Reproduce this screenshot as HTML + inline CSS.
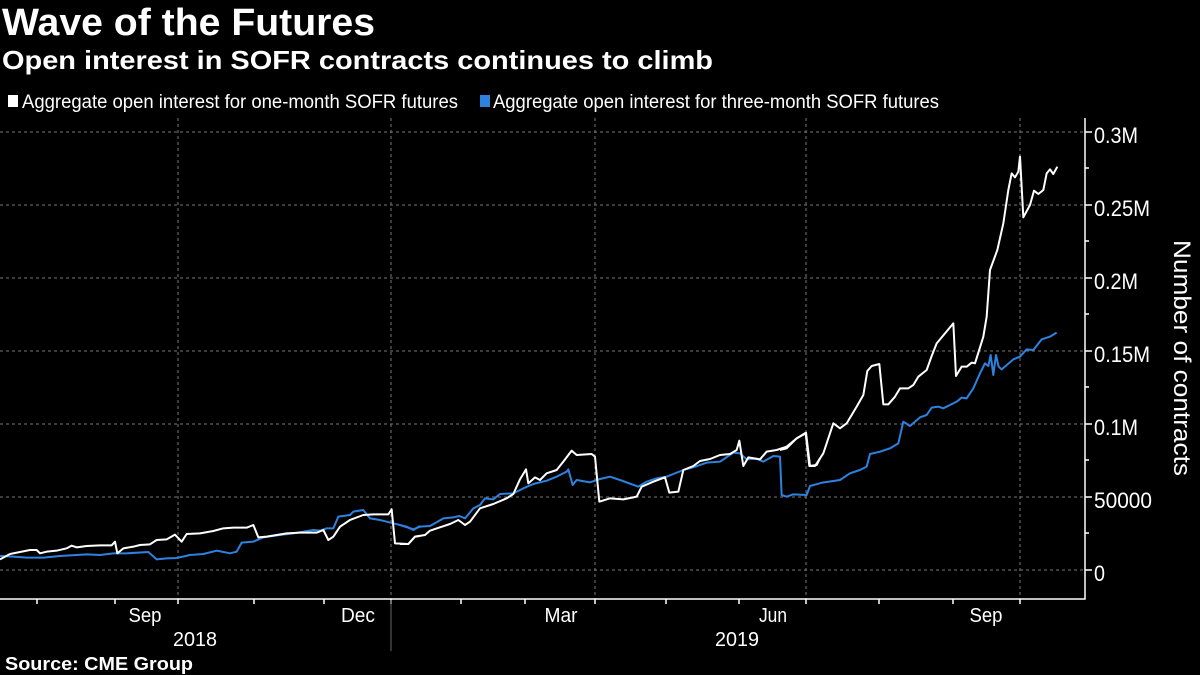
<!DOCTYPE html>
<html><head><meta charset="utf-8"><style>
body{margin:0;background:#000;width:1200px;height:675px;overflow:hidden}
svg{display:block}
text{font-family:"Liberation Sans","DejaVu Sans",sans-serif;fill:#fff}
</style></head><body>
<svg width="1200" height="675" viewBox="0 0 1200 675">
<text x="2" y="35" font-size="38" font-weight="bold" textLength="373" lengthAdjust="spacingAndGlyphs">Wave of the Futures</text>
<text x="2" y="69" font-size="26" font-weight="bold" textLength="711" lengthAdjust="spacingAndGlyphs">Open interest in SOFR contracts continues to climb</text>
<rect x="8" y="95" width="10" height="12" fill="#fff"/>
<text x="22" y="108" font-size="19" textLength="436" lengthAdjust="spacingAndGlyphs">Aggregate open interest for one-month SOFR futures</text>
<rect x="480" y="95" width="10" height="12" fill="#2d82e0"/>
<text x="493" y="108" font-size="19" textLength="446" lengthAdjust="spacingAndGlyphs">Aggregate open interest for three-month SOFR futures</text>
<g stroke="#777" stroke-width="1" stroke-dasharray="3,3">
<line x1="0" y1="132" x2="1085" y2="132"/><line x1="0" y1="205" x2="1085" y2="205"/><line x1="0" y1="278" x2="1085" y2="278"/><line x1="0" y1="351" x2="1085" y2="351"/><line x1="0" y1="424" x2="1085" y2="424"/><line x1="0" y1="497" x2="1085" y2="497"/><line x1="0" y1="570" x2="1085" y2="570"/>
<line x1="178" y1="118" x2="178" y2="599"/><line x1="391" y1="118" x2="391" y2="599"/><line x1="595" y1="118" x2="595" y2="599"/><line x1="806" y1="118" x2="806" y2="599"/><line x1="1020" y1="118" x2="1020" y2="599"/>
</g>
<g stroke="#fff" stroke-width="1.5" fill="none">
<polyline points="1085,118 1085,599 0,599"/>
<path d="M1085 132h7M1085 205h7M1085 278h7M1085 351h7M1085 424h7M1085 497h7M1085 570h7M1085 168h4M1085 241h4M1085 314h4M1085 387h4M1085 460h4M1085 533h4"/>
<path d="M37 599v5M115 599v5M178 599v5M254 599v5M324 599v5M391 599v5M461 599v5M525 599v5M595 599v5M666 599v5M739 599v5M806 599v5M879 599v5M953 599v5M1020 599v5"/>
</g>
<line x1="391" y1="600" x2="391" y2="651" stroke="#666"/>
<g font-size="22" lengthAdjust="spacingAndGlyphs">
<text x="1094" y="143" textLength="44" lengthAdjust="spacingAndGlyphs">0.3M</text>
<text x="1094" y="216" textLength="56" lengthAdjust="spacingAndGlyphs">0.25M</text>
<text x="1094" y="289" textLength="44" lengthAdjust="spacingAndGlyphs">0.2M</text>
<text x="1094" y="362" textLength="56" lengthAdjust="spacingAndGlyphs">0.15M</text>
<text x="1094" y="435" textLength="44" lengthAdjust="spacingAndGlyphs">0.1M</text>
<text x="1094" y="508" textLength="58" lengthAdjust="spacingAndGlyphs">50000</text>
<text x="1094" y="581" textLength="11" lengthAdjust="spacingAndGlyphs">0</text>
</g>
<text transform="translate(1174,358) rotate(90)" font-size="24" text-anchor="middle" textLength="236" lengthAdjust="spacingAndGlyphs">Number of contracts</text>
<g font-size="20" text-anchor="middle">
<text x="145" y="622" textLength="33" lengthAdjust="spacingAndGlyphs">Sep</text><text x="358" y="622" textLength="34" lengthAdjust="spacingAndGlyphs">Dec</text><text x="561" y="622" textLength="33" lengthAdjust="spacingAndGlyphs">Mar</text><text x="773" y="622" textLength="28" lengthAdjust="spacingAndGlyphs">Jun</text><text x="986" y="622" textLength="33" lengthAdjust="spacingAndGlyphs">Sep</text>
<text x="195" y="646" textLength="44" lengthAdjust="spacingAndGlyphs">2018</text><text x="737" y="646" textLength="44" lengthAdjust="spacingAndGlyphs">2019</text>
</g>
<text x="5" y="670" font-size="18" font-weight="bold" textLength="188" lengthAdjust="spacingAndGlyphs">Source: CME Group</text>
<g fill="none" stroke-width="2" stroke-linejoin="round">
<g transform="translate(0,400) scale(0.33333)">
<polyline vector-effect="non-scaling-stroke" stroke="#2d82e0" points="0,468 40,470 80,473 130,473 180,468 260,463 300,465 340,460 380,460 445,456 470,478 500,475 530,474 570,465 610,462 650,452 690,460 710,455 725,428 760,425 790,412 840,405 880,400 940,390 960,392 980,385 1000,385 1015,350 1050,345 1060,335 1090,330 1110,355 1140,360 1180,370 1220,380 1240,390 1260,378"/>
<polyline vector-effect="non-scaling-stroke" stroke="#fff" points="0,478 30,462 60,456 90,450 110,450 120,460 140,455 170,452 200,445 215,437 230,442 260,438 300,436 335,436 345,425 352,460 370,445 400,440 420,435 450,433 470,420 500,418 525,404 545,425 560,402 600,400 640,393 670,385 700,383 740,383 760,375 775,412 800,410 860,400 900,398 950,398 970,390 985,420 1000,410 1020,380 1050,360 1090,345 1120,343 1165,343 1175,328 1185,430 1225,432 1245,410 1260,408"/>
</g>
<g transform="translate(400,380) scale(0.33333)">
<polyline vector-effect="non-scaling-stroke" stroke="#2d82e0" points="0,435 40,448 60,440 90,438 130,415 160,412 178,408 195,415 220,385 240,375 255,355 280,358 300,342 340,340 370,325 400,312 440,302 470,290 500,275 505,268 518,315 530,300 570,307 600,297 630,290 660,300 715,320 740,305 770,295 800,290 820,282 850,270 880,262 920,248 960,245 1000,218 1020,220 1040,238 1070,236 1090,245 1120,228 1140,230 1145,345 1160,350 1180,343 1220,345 1230,318 1260,310"/>
<polyline vector-effect="non-scaling-stroke" stroke="#fff" points="0,492 25,492 45,470 75,465 90,452 120,442 150,432 175,420 195,435 210,425 240,385 280,372 320,355 340,342 360,298 378,268 385,310 405,292 420,300 440,280 470,270 490,245 515,212 530,225 575,222 585,230 598,365 630,355 670,358 710,350 725,320 760,305 795,292 808,338 835,335 850,270 880,258 900,243 930,237 960,225 990,222 1010,210 1018,182 1030,258 1045,232 1080,238 1100,215 1130,210 1160,200 1190,175 1217,160 1228,258 1250,255 1260,235"/>
</g>
<g transform="translate(780,140) scale(0.33333)">
<polyline vector-effect="non-scaling-stroke" stroke="#2d82e0" points="120,1029 180,1020 210,1000 240,990 260,980 270,942 300,935 330,925 355,910 370,845 390,858 420,832 440,825 455,803 475,800 490,805 510,795 530,785 545,773 560,775 580,745 600,700 615,670 625,678 632,645 640,705 648,645 656,680 665,688 700,658 720,650 740,628 760,630 785,598 810,590 830,578"/>
<polyline vector-effect="non-scaling-stroke" stroke="#fff" points="0,930 20,925 50,895 78,878 90,978 105,978 130,940 160,850 180,865 200,850 230,800 250,765 262,693 275,678 298,672 310,793 325,793 345,770 360,745 385,745 400,735 415,710 440,690 455,648 470,610 495,580 520,550 528,708 545,680 560,680 575,668 585,670 610,590 620,530 630,390 652,330 670,250 685,150 695,100 705,112 715,95 720,50 730,232 750,195 762,152 775,162 790,150 800,100 810,88 820,102 832,80"/>
</g>
</g>
</svg>
</body></html>
